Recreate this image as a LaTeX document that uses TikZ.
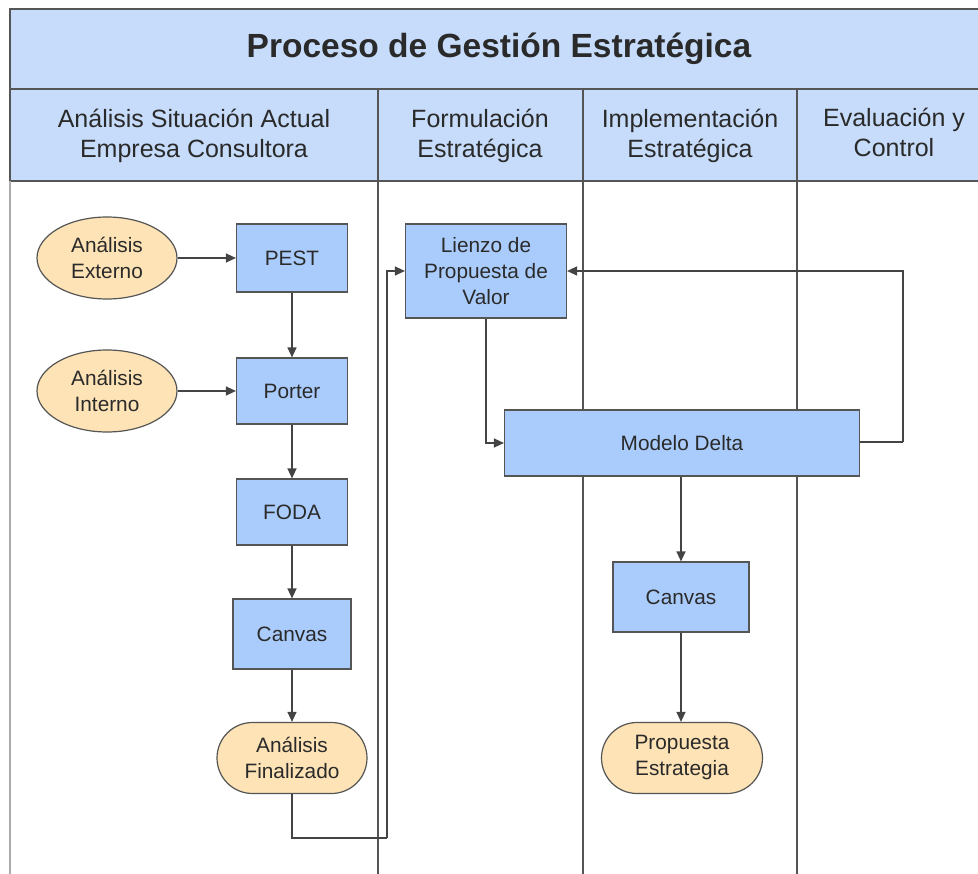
\documentclass[tikz,border=0pt]{standalone}
\usepackage{fontspec}
\setmainfont{Liberation Sans}
\usetikzlibrary{arrows.meta,shapes.geometric,shapes.misc}
\definecolor{lanefill}{HTML}{C6DCFA}
\definecolor{procfill}{HTML}{AACCFC}
\definecolor{termfill}{HTML}{FDE3B6}
\definecolor{edgegray}{HTML}{555555}
\definecolor{inkgray}{HTML}{2A2A2A}

\begin{document}
\begin{tikzpicture}[x=1pt,y=-1pt,
  lane/.style={draw=edgegray,line width=1.5pt},
  head/.style={text=inkgray,align=center,font=\fontsize{25}{30}\selectfont},
  proc/.style={draw=edgegray,line width=1.2pt,fill=procfill,text=inkgray,align=center,
    font=\fontsize{20.8}{26}\selectfont,inner sep=0pt},
  oval/.style={proc,ellipse,fill=termfill},
  term/.style={proc,rounded rectangle,fill=termfill},
  flow/.style={draw=edgegray!80!black,line width=1.3pt,-{Triangle[length=10pt,width=9pt]}},
  wire/.style={draw=edgegray!80!black,line width=1.3pt}]
\useasboundingbox (0,0) rectangle (978,874);
\fill[white] (0,0) rectangle (978,874);

\path[lane,fill=lanefill] (10,9) rectangle (992,89);
\path[lane,fill=lanefill] (10,89) rectangle (992,181);
\path[draw=gray!65,line width=2.5pt] (10,181) -- (10,880);
\path[lane] (378,89) -- (378,880);
\path[lane] (583,89) -- (583,880);
\path[lane] (797,89) -- (797,880);

\node[text=inkgray,font=\fontsize{33.5}{38}\selectfont\bfseries] (t) at (499,49) {Proceso de Gestión Estratégica};
\node[head] (h1) at (194,136) {Análisis Situación Actual\\Empresa Consultora};
\node[head] (h2) at (480,136) {Formulación\\Estratégica};
\node[head] (h3) at (690,136) {Implementación\\Estratégica};
\node[head] (h4) at (894,132.5) {Evaluación y\\Control};

\node[oval,minimum width=140pt,minimum height=82pt] (e) at (107,258) {Análisis\\Externo};
\node[proc,minimum width=111pt,minimum height=68pt] (p) at (292,258) {PEST};
\node[oval,minimum width=140pt,minimum height=82pt] (i) at (107,391) {Análisis\\Interno};
\node[proc,minimum width=111pt,minimum height=66pt] (q) at (292,391) {Porter};
\node[proc,minimum width=111pt,minimum height=66pt] (f) at (292,512) {FODA};
\node[proc,minimum width=118pt,minimum height=70pt] (c) at (292,634) {Canvas};
\node[term,minimum width=150pt,minimum height=71pt] (a) at (292,758) {Análisis\\Finalizado};

\node[proc,minimum width=161pt,minimum height=94pt] (l) at (486,271) {Lienzo de\\Propuesta de\\Valor};
\node[proc,minimum width=355pt,minimum height=66pt] (d) at (682,443) {Modelo Delta};
\node[proc,minimum width=136pt,minimum height=70pt] (v) at (681,597) {Canvas};
\node[term,minimum width=161pt,minimum height=71pt] (s) at (682,758) {Propuesta\\Estrategia};

\coordinate (k) at (387,838);
\coordinate (r) at (903,442);

\path[flow] (e) -- (p);
\path[flow] (i) -- (q);
\path[flow] (p) -- (q);
\path[flow] (q) -- (f);
\path[flow] (f) -- (c);
\path[flow] (c) -- (a);
\path[wire] (a.south) |- (k);
\path[flow] (k) |- (l.west);
\path[flow] (l.south) |- (d.west);
\path[wire] (d.east |- r) -- (r);
\path[flow] (r) |- (l.east);
\path[flow] (d.south -| v.north) -- (v.north);
\path[flow] (v.south) -- (v.south |- s.north);
\end{tikzpicture}
\end{document}
